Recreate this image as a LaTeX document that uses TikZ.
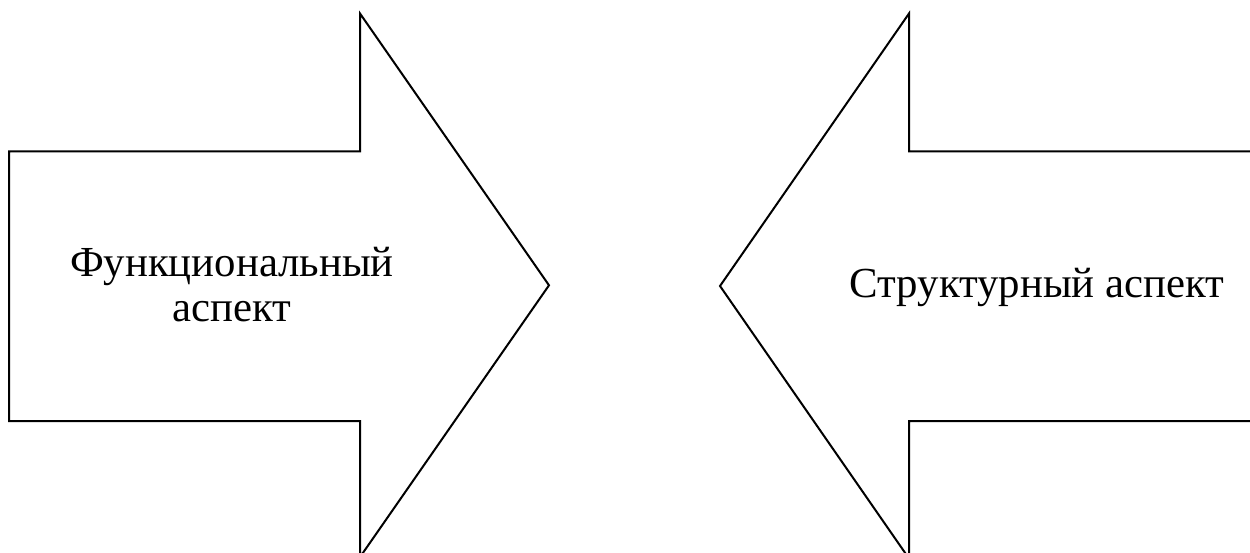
\documentclass[tikz,border=0pt]{standalone}
\usepackage{fontspec}
\setmainfont{Liberation Serif}
\tikzset{
  arrowshape/.style={draw=black, line width=2pt, line join=miter, fill=white},
  label/.style={font=\fontsize{42.8}{45}\selectfont, align=center, inner sep=0pt}
}
\begin{document}
\begin{tikzpicture}[x=1pt,y=-1pt]
\useasboundingbox (0,0) rectangle (1250,553);
\fill[white] (0,0) rectangle (1250,553);
\clip (0,0) rectangle (1250,553);
% left arrow
\draw[arrowshape] (9,151.3) -- (360,151.3) -- (360,13.5) -- (549,285.3)
  -- (360,557.1) -- (360,421) -- (9,421) -- cycle;
% right arrow
\draw[arrowshape] (1254,151.3) -- (909,151.3) -- (909,13.5) -- (720,286)
  -- (909,558.5) -- (909,421) -- (1254,421) -- cycle;
\node[label, anchor=base] (fa) at (232,321.7) {Функциональный\\аспект};
\node[label, anchor=base] (sa) at (1037,297.7) {Структурный аспект};
\end{tikzpicture}
\end{document}
